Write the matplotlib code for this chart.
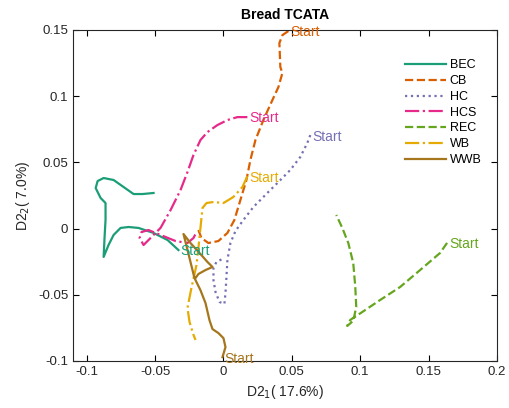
import matplotlib
matplotlib.use("Agg")
import matplotlib.pyplot as plt
from matplotlib.ticker import FuncFormatter

plt.rcParams['font.family'] = ['Liberation Sans', 'DejaVu Sans']

# trajectories in the D2_1 / D2_2 plane, first point = start of the trajectory
bec_x = [-0.0329, -0.0409, -0.0511, -0.0621, -0.0694, -0.0752, -0.0803, -0.0840, -0.0876,
         -0.0869, -0.0862, -0.0862, -0.0898, -0.0934, -0.0920, -0.0876, -0.0803, -0.0730,
         -0.0657, -0.0591, -0.0511]
bec_y = [-0.0162, -0.0086, -0.0033, 0.0005, 0.0012, 0.0005, -0.0048, -0.0124, -0.0214,
         -0.0063, 0.0065, 0.0193, 0.0231, 0.0306, 0.0359, 0.0382, 0.0367, 0.0314,
         0.0261, 0.0261, 0.0269]

cb_x = [0.0475, 0.0431, 0.0409, 0.0416, 0.0431, 0.0402, 0.0358, 0.0292, 0.0234, 0.0197,
        0.0168, 0.0124, 0.0080, 0.0029, -0.0037, -0.0110, -0.0161, -0.0183]
cb_y = [0.1492, 0.1461, 0.1401, 0.1220, 0.1175, 0.1069, 0.0971, 0.0820, 0.0669, 0.0518,
        0.0367, 0.0216, 0.0065, -0.0033, -0.0094, -0.0109, -0.0071, -0.0011]

hc_x = [0.0635, 0.0613, 0.0562, 0.0489, 0.0402, 0.0321, 0.0219, 0.0146, 0.0088, 0.0051,
        0.0029, 0.0022, 0.0015, 0.0007, -0.0029, -0.0058, -0.0073, -0.0073, -0.0051, -0.0007]
hc_y = [0.0706, 0.0646, 0.0541, 0.0443, 0.0352, 0.0269, 0.0163, 0.0065, -0.0018, -0.0109,
        -0.0237, -0.0365, -0.0486, -0.0569, -0.0554, -0.0479, -0.0388, -0.0297, -0.0252, -0.0229]

hcs_x = [0.0175, 0.0102, 0.0029, -0.0044, -0.0117, -0.0168, -0.0219, -0.0263, -0.0314,
         -0.0387, -0.0460, -0.0533, -0.0584, -0.0613, -0.0599, -0.0548, -0.0460, -0.0350,
         -0.0263, -0.0219, -0.0197]
hcs_y = [0.0842, 0.0842, 0.0820, 0.0782, 0.0729, 0.0669, 0.0556, 0.0427, 0.0291,
         0.0139, 0.0005, -0.0071, -0.0124, -0.0071, -0.0026, -0.0011, -0.0048, -0.0094,
         -0.0109, -0.0071, -0.0026]

rec_x = [0.1635, 0.1584, 0.1438, 0.1292, 0.1146, 0.1015, 0.0927, 0.0905, 0.0949, 0.0971,
         0.0964, 0.0949, 0.0913, 0.0869, 0.0825]
rec_y = [-0.0108, -0.0184, -0.0313, -0.0441, -0.0539, -0.0630, -0.0690, -0.0735, -0.0697,
         -0.0592, -0.0441, -0.0260, -0.0109, 0.0005, 0.0103]

wb_x = [0.0175, 0.0139, 0.0073, 0.0000, -0.0073, -0.0124, -0.0153, -0.0168, -0.0183,
        -0.0197, -0.0234, -0.0263, -0.0248, -0.0219, -0.0204]
wb_y = [0.0396, 0.0314, 0.0239, 0.0193, 0.0201, 0.0193, 0.0156, 0.0005, -0.0146,
        -0.0275, -0.0448, -0.0599, -0.0705, -0.0803, -0.0841]

wwb_x = [-0.0007, 0.0015, 0.0000, -0.0037, -0.0080, -0.0102, -0.0131, -0.0168, -0.0212,
         -0.0241, -0.0270, -0.0292, -0.0241, -0.0168, -0.0117, -0.0080, -0.0131, -0.0183, -0.0204]
wwb_y = [-0.0971, -0.0895, -0.0827, -0.0789, -0.0759, -0.0692, -0.0563, -0.0465, -0.0373,
         -0.0252, -0.0131, -0.0041, -0.0109, -0.0192, -0.0252, -0.0290, -0.0313, -0.0343, -0.0373]

names = ['BEC', 'CB', 'HC', 'HCS', 'REC', 'WB', 'WWB']
xs = [bec_x, cb_x, hc_x, hcs_x, rec_x, wb_x, wwb_x]
ys = [bec_y, cb_y, hc_y, hcs_y, rec_y, wb_y, wwb_y]
colors = ['#1b9e77', '#d95f02', '#7570b3', '#e7298a', '#66a61e', '#e6ab02', '#a6761d']
styles = ['-', '--', ':', '-.', '--', '-.', '-']

fig = plt.figure(figsize=(5.09, 4.08), dpi=100)
ax = fig.add_axes([0.1434, 0.1152, 0.833, 0.8113])

for name, x, y, c, ls in zip(names, xs, ys, colors, styles):
    ax.plot(x, y, color=c, linestyle=ls, linewidth=1.6, label=name)
# mark where each trajectory begins
for x, y, c in zip(xs, ys, colors):
    ax.annotate('Start', (x[0], y[0]), xytext=(1.5, -1), textcoords='offset points',
                color=c, fontsize=10, ha='left', va='center')

ax.set_xlim(-0.11, 0.2)
ax.set_ylim(-0.1, 0.15)
ax.set_xticks([-0.1, -0.05, 0, 0.05, 0.1, 0.15, 0.2])
ax.set_yticks([-0.1, -0.05, 0, 0.05, 0.1, 0.15])
fmt = FuncFormatter(lambda v, p: '%g' % round(v, 4))
ax.xaxis.set_major_formatter(fmt)
ax.yaxis.set_major_formatter(fmt)
ax.tick_params(direction='in', top=True, right=True, labelsize=9.5,
               labelcolor='#262626', length=4, width=0.8)
for s in ax.spines.values():
    s.set_linewidth(0.8)
    s.set_color('#262626')

ax.set_xlabel('D2$_1$( 17.6%)', fontsize=10, color='#262626')
ax.set_ylabel('D2$_2$( 7.0%)', fontsize=10, color='#262626')
ax.set_title('Bread TCATA', fontsize=10, fontweight='bold', pad=8)

leg = ax.legend(loc='upper right', bbox_to_anchor=(0.99, 0.945), frameon=False,
                fontsize=9, handlelength=3.3, handletextpad=0.25, labelspacing=0.3)

fig.savefig('out.png', dpi=100)
